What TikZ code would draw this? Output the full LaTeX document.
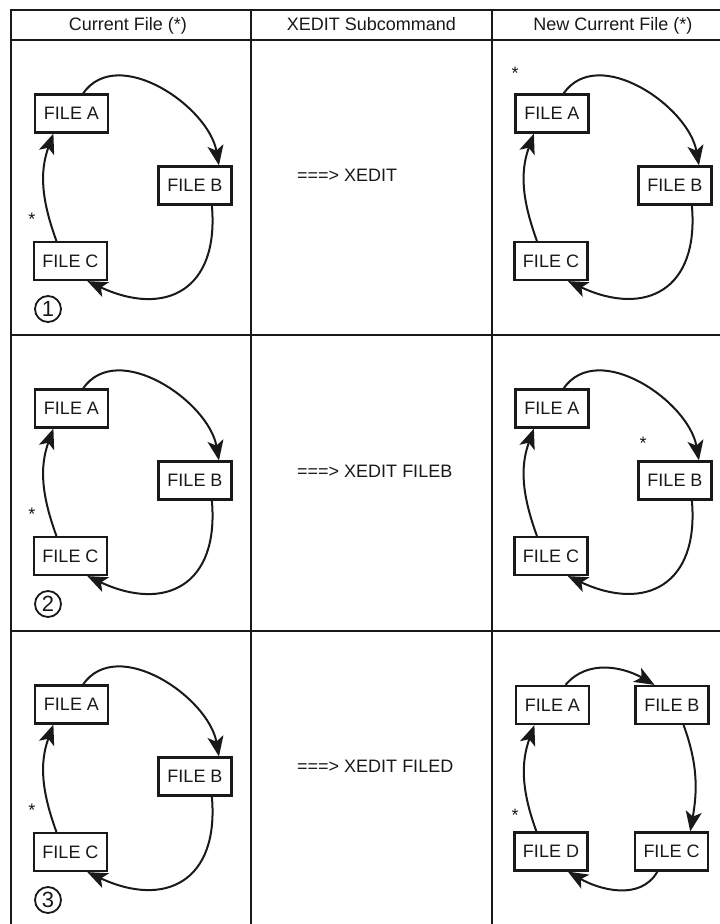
\documentclass[tikz,border=0pt]{standalone}
\usepackage{fontspec}
\setmainfont{Liberation Sans}
\usetikzlibrary{arrows.meta}
\begin{document}
\begin{tikzpicture}[x=1pt, y=1pt]
  % Definir colores
  \definecolor{tinta}{RGB}{25, 25, 25}

  % Configurar estilo de nodos
  \tikzset{
    tabla/.style={draw=tinta, line width=2.8pt},
    titulo/.style={text=tinta, font=\fontsize{18}{20}\selectfont, anchor=base},
    archivo/.style={draw=tinta, text=tinta, line width=2.2pt, minimum width=73pt, minimum height=38pt, inner sep=0pt, font=\fontsize{18}{20}\selectfont},
    comando/.style={text=tinta, font=\fontsize{18}{20}\selectfont, anchor=west, inner sep=0pt},
    estrella/.style={text=tinta, font=\fontsize{18}{20}\selectfont, anchor=north, inner sep=0pt},
    paso/.style={circle, draw=tinta, text=tinta, line width=1.8pt, minimum size=26pt, inner sep=0pt, font=\fontsize{22}{24}\selectfont},
    flecha/.style={draw=tinta, line width=2pt, -{Stealth[length=20pt, width=16pt, inset=5pt]}}
  }

  \useasboundingbox (0,0) rectangle (720,-924);

  % Lineas de la tabla
  \draw[tabla] (11,-924) -- (11,-10) -- (720,-10);
  \draw[tabla] (11,-40) -- (720,-40);
  \draw[tabla] (11,-335) -- (720,-335);
  \draw[tabla] (11,-631) -- (720,-631);
  \draw[tabla] (251,-10) -- (251,-924);
  \draw[tabla] (492,-10) -- (492,-924);

  % Encabezados de columnas
  \node[titulo] (h1) at (128, -30.5) {Current File (*)};
  \node[titulo] (h2) at (371.5, -30.5) {XEDIT Subcommand};
  \node[titulo] (h3) at (613, -30.5) {New Current File (*)};

  % Columna izquierda: archivo actual
  \foreach \r/\dy in {1/0, 2/295, 3/591} {
    \node[archivo] (a\r) at (71.5, -113.5-\dy) {FILE A};
    \node[archivo] (b\r) at (195, -185.5-\dy) {FILE B};
    \node[archivo] (c\r) at (70.5, -261-\dy) {FILE C};
    \node[estrella] (s\r) at (32, -213-\dy) {*};
    \node[paso] (n\r) at (48, -309-\dy) {\r};
    \draw[flecha] (a\r.60) to[out=55, in=100] (b\r.40);
    \draw[flecha] (b\r.-50) to[out=-85, in=-25, looseness=1.5] (c\r.-50);
    \draw[flecha] (c\r.125) to[out=110, in=250] (a\r.228);
  }

  % Columna central: subcomandos
  \node[comando] (x1) at (297, -175.5) {===> XEDIT};
  \node[comando] (x2) at (297, -471.5) {===> XEDIT FILEB};
  \node[comando] (x3) at (297, -766.5) {===> XEDIT FILED};

  % Columna derecha: nuevo archivo actual
  \foreach \r/\dy in {1/0, 2/295} {
    \node[archivo] (na\r) at (552, -113.5-\dy) {FILE A};
    \node[archivo] (nb\r) at (675, -185.5-\dy) {FILE B};
    \node[archivo] (nc\r) at (551, -261-\dy) {FILE C};
    \draw[flecha] (na\r.60) to[out=55, in=100] (nb\r.40);
    \draw[flecha] (nb\r.-50) to[out=-85, in=-25, looseness=1.5] (nc\r.-50);
    \draw[flecha] (nc\r.125) to[out=110, in=250] (na\r.228);
  }
  \node[estrella] (ns1) at (515, -67) {*};
  \node[estrella] (ns2) at (643, -437) {*};

  % Tercera fila: se agrega FILE D
  \node[archivo] (ma) at (552.5, -705) {FILE A};
  \node[archivo] (mb) at (672, -705) {FILE B};
  \node[archivo] (mc) at (671.5, -851.5) {FILE C};
  \node[archivo] (md) at (551, -851.5) {FILE D};
  \node[estrella] (ms) at (515, -809) {*};
  \draw[flecha] (ma.57) to[out=50, in=150] (mb.131);
  \draw[flecha] (mb.-60) to[out=-70, in=80] (mc.47);
  \draw[flecha] (mc.235) to[out=-120, in=-30] (md.-50);
  \draw[flecha] (md.126) to[out=110, in=250] (ma.228);
\end{tikzpicture}
\end{document}
